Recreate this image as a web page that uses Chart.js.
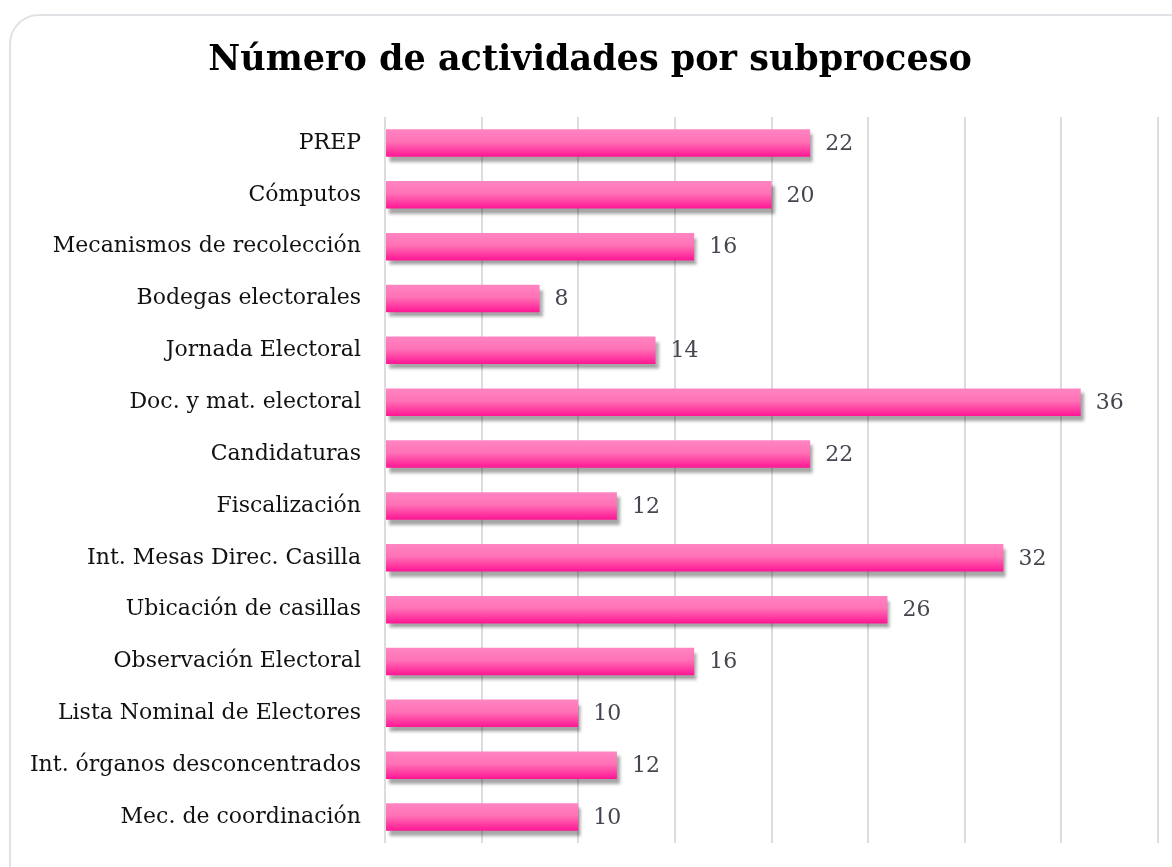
<!DOCTYPE html>
<html>
<head>
<meta charset="utf-8">
<script src="https://cdn.jsdelivr.net/npm/chart.js@4"></script>
<style>
  html, body { margin: 0; padding: 0; background: #fff; overflow: hidden; }
  .frame {
    position: absolute; left: 9px; top: 14px; width: 1220px; height: 900px;
    border: 2px solid #e2e2e6; border-radius: 30px;
  }
  #wrap { position: absolute; left: 0; top: 0; width: 1172px; height: 867px; }
</style>
</head>
<body>
<div class="frame"></div>
<div id="wrap"><canvas id="chart"></canvas></div>
<script>
const categories = [
  'PREP', 'Cómputos', 'Mecanismos de recolección', 'Bodegas electorales',
  'Jornada Electoral', 'Doc. y mat. electoral', 'Candidaturas', 'Fiscalización',
  'Int. Mesas Direc. Casilla', 'Ubicación de casillas', 'Observación Electoral',
  'Lista Nominal de Electores', 'Int. órganos desconcentrados', 'Mec. de coordinación'
];
const activities = [22, 20, 16, 8, 14, 36, 22, 12, 32, 26, 16, 10, 12, 10];
const xTicks = [0, 5, 10, 15, 20, 25, 30, 35, 40];

const serif = "'DejaVu Serif', 'Liberation Serif', serif";

// shadow under the bars + value labels
const barExtras = {
  id: 'barExtras',
  beforeDatasetDraw(chart) {
    const c = chart.ctx;
    c.save();
    c.shadowColor = 'rgba(0,0,0,0.35)';
    c.shadowOffsetX = 3;
    c.shadowOffsetY = 5;
    c.shadowBlur = 3;
  },
  afterDatasetDraw(chart) {
    chart.ctx.restore();
  },
  afterDatasetsDraw(chart) {
    const c = chart.ctx;
    const meta = chart.getDatasetMeta(0);
    c.save();
    c.font = '22px ' + serif;
    c.fillStyle = '#45464f';
    c.textAlign = 'left';
    c.textBaseline = 'middle';
    meta.data.forEach((bar, i) => {
      c.fillText(String(activities[i]), bar.x + 15, bar.y + 1);
    });
    c.restore();
  }
};

new Chart(document.getElementById('chart'), {
  type: 'bar',
  data: {
    labels: categories,
    datasets: [{
      data: activities,
      barPercentage: 0.53,
      categoryPercentage: 1,
      backgroundColor(ctx) {
        const y = ctx.chart.scales.y;
        const yc = y ? y.getPixelForValue(ctx.dataIndex) : NaN;
        if (!isFinite(yc)) return '#ff4fa8';
        const g = ctx.chart.ctx.createLinearGradient(0, yc - 14, 0, yc + 14);
        g.addColorStop(0, '#ff85c2');
        g.addColorStop(0.45, '#ff72b6');
        g.addColorStop(1, '#ff1493');
        return g;
      },
      borderWidth: 0
    }]
  },
  options: {
    indexAxis: 'y',
    responsive: true,
    maintainAspectRatio: false,
    animation: false,
    layout: { padding: { left: 22, right: 14, top: 0, bottom: 24 } },
    plugins: {
      legend: { display: false },
      tooltip: { enabled: false },
      title: {
        display: true,
        text: 'Número de actividades por subproceso',
        color: '#000',
        font: { family: serif, size: 35, weight: 'bold' },
        padding: { top: 40, bottom: 35 }
      }
    },
    scales: {
      x: {
        min: 0,
        max: 40,
        afterBuildTicks(scale) { scale.ticks = xTicks.map(v => ({ value: v })); },
        ticks: { display: false },
        grid: { color: '#dcdcdf', lineWidth: 2, drawTicks: false },
        border: { display: false }
      },
      y: {
        afterFit(scale) {
          scale.width = 363;
          scale.paddingTop = 0;
          scale.paddingBottom = 0;
        },
        ticks: {
          color: '#111',
          padding: 24,
          font: { family: serif, size: 22 }
        },
        grid: { display: false, drawTicks: false },
        border: { display: false }
      }
    }
  },
  plugins: [barExtras]
});
</script>
</body>
</html>
